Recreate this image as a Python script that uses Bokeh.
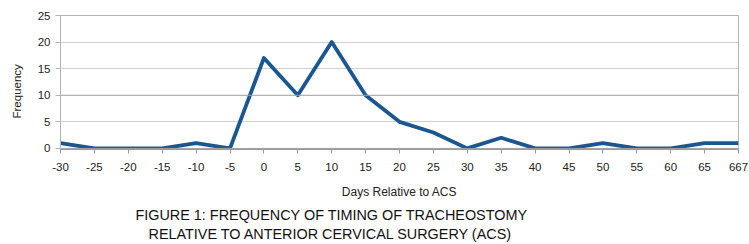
from bokeh.plotting import figure
from bokeh.models import Range1d, FixedTicker, Title, Span
from bokeh.embed import file_html
from bokeh.resources import INLINE

days = ["-30", "-25", "-20", "-15", "-10", "-5", "0", "5", "10", "15", "20",
        "25", "30", "35", "40", "45", "50", "55", "60", "65", "667"]
frequency = [1, 0, 0, 0, 1, 0, 17, 10, 20, 10, 5, 3, 0, 2, 0, 0, 1, 0, 0, 1, 1]
y_ticks = [0, 5, 10, 15, 20, 25]
x_title = "Days Relative to ACS"
y_title = "Frequency"
caption_1 = "FIGURE 1: FREQUENCY OF TIMING OF TRACHEOSTOMY"
caption_2 = "RELATIVE TO ANTERIOR CERVICAL SURGERY (ACS)"

FONT = "Liberation Sans"
xs = list(range(len(days)))

p = figure(width=749, height=244, output_backend="svg", toolbar_location=None,
           x_range=Range1d(0, len(days) - 1), y_range=Range1d(-0.2, 25),
           min_border_left=58, min_border_right=11, min_border_top=15,
           min_border_bottom=95)
p.background_fill_color = "white"
p.border_fill_color = "white"
p.outline_line_color = "#b3b3b3"

p.line(xs, frequency, line_color="#1a5790", line_width=3.8, line_join="round")

# x axis
p.xaxis.ticker = FixedTicker(ticks=xs)
p.xaxis.major_label_overrides = {i: d for i, d in zip(xs, days)}
p.xaxis.axis_label = x_title
p.xaxis.axis_label_text_font = FONT
p.xaxis.axis_label_text_font_style = "normal"
p.xaxis.axis_label_text_font_size = "12px"
p.xaxis.axis_label_text_color = "#222222"
p.xaxis.axis_label_standoff = 11
p.xaxis.major_label_text_font = FONT
p.xaxis.major_label_text_font_size = "11.5px"
p.xaxis.major_label_text_color = "#222222"
p.xaxis.major_label_standoff = 9
p.xaxis.major_tick_out = 4
p.xaxis.major_tick_in = 0
p.xaxis.minor_tick_out = 0
p.xaxis.minor_tick_in = 0
p.xaxis.axis_line_color = "#9a9a9a"
p.xaxis.major_tick_line_color = "#9a9a9a"

# y axis
p.yaxis.ticker = FixedTicker(ticks=y_ticks)
p.yaxis.major_label_text_font = FONT
p.yaxis.major_label_text_font_size = "11.5px"
p.yaxis.major_label_text_color = "#222222"
p.yaxis.major_label_standoff = 5
p.yaxis.major_tick_out = 5
p.yaxis.major_tick_in = 0
p.yaxis.minor_tick_out = 0
p.yaxis.minor_tick_in = 0
p.yaxis.axis_line_color = "#b3b3b3"
p.yaxis.major_tick_line_color = "#b3b3b3"

# y axis title, placed slightly below the frame centre as in the original
ty = Title(text=y_title, align="left", offset=31, text_font=FONT,
           text_font_size="11.5px", text_font_style="normal", text_color="#222222",
           standoff=20, vertical_align="top")
p.add_layout(ty, "left")

p.xgrid.grid_line_color = None
p.ygrid.grid_line_color = "#d0d0d0"
p.ygrid.grid_line_width = 1
p.add_layout(Span(location=10, dimension="width", line_color="#a8a8a8", line_width=1), "center")
p.add_layout(Span(location=0, dimension="width", line_color="#a0a0a0", line_width=1), "center")

t1 = Title(text=caption_1, align="left", offset=75, text_font=FONT,
           text_font_size="14.4px", text_font_style="normal", text_color="#111111",
           standoff=6)
t2 = Title(text=caption_2, align="left", offset=88, text_font=FONT,
           text_font_size="14.4px", text_font_style="normal", text_color="#111111",
           standoff=-3)
p.add_layout(t1, "below")
p.add_layout(t2, "below")

open("out.html", "w").write(file_html(p, INLINE))
